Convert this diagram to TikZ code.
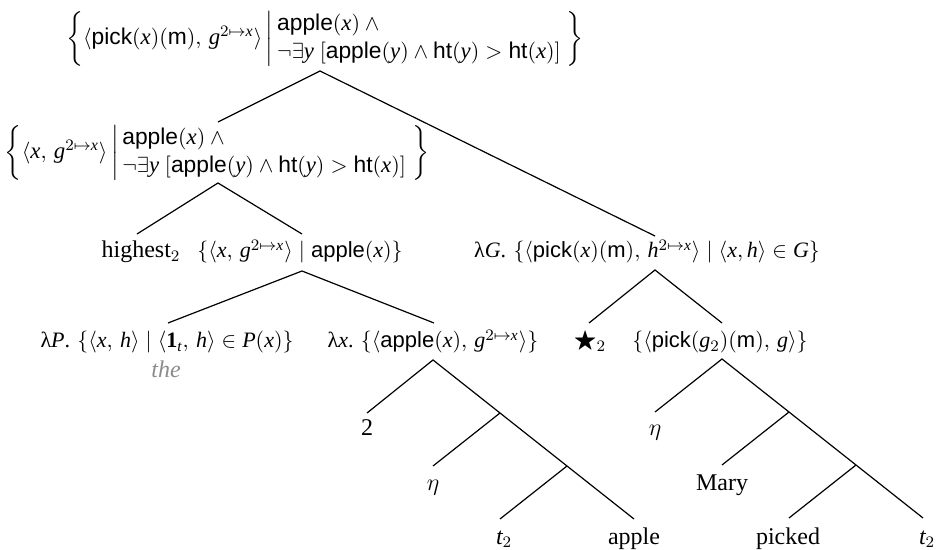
\documentclass[tikz,border=0pt]{standalone}
\usepackage{amsmath,amssymb}
\usepackage{fontspec}
\setmainfont{Liberation Serif}
\setsansfont{Liberation Sans}
\newcommand{\pr}[1]{\textsf{#1}}
\newcommand{\mi}[1]{\mathit{#1}}
\tikzset{
  lbl/.style={inner sep=0pt, outer sep=0pt, anchor=base, font=\fontsize{11}{13.5}\selectfont},
  word/.style={inner sep=0pt, outer sep=0pt, anchor=base, font=\fontsize{12}{14}\selectfont},
  big/.style={inner sep=0pt, outer sep=0pt, anchor=center, font=\fontsize{11.4}{14}\selectfont},
  br/.style={line width=0.6pt, black},
  note/.style={word, text=black!45}
}
\begin{document}
\begin{tikzpicture}[x=0.5pt, y=-0.5pt]
\useasboundingbox (0,0) rectangle (942,550);
% nodes
\node[big] (top) at (325,39) {$\bigg\{\langle \pr{pick}(\mi{x})(\pr{m}),\, \mi{g}^{2\mapsto \mi{x}}\rangle \,\bigg|\, \begin{array}{@{}l@{}}\pr{apple}(\mi{x})\wedge{}\\ \neg\exists \mi{y}\ [\pr{apple}(\mi{y})\wedge \pr{ht}(\mi{y}) > \pr{ht}(\mi{x})]\end{array}\;\bigg\}$};
\node[big] (sec) at (217,153) {$\bigg\{\langle \mi{x},\, \mi{g}^{2\mapsto \mi{x}}\rangle \,\bigg|\, \begin{array}{@{}l@{}}\pr{apple}(\mi{x})\wedge{}\\ \neg\exists \mi{y}\ [\pr{apple}(\mi{y})\wedge \pr{ht}(\mi{y}) > \pr{ht}(\mi{x})]\end{array}\;\bigg\}$};
\node[word] (hi) at (141,258) {highest$_2$};
\node[lbl] (set) at (300,258) {$\{\langle \mi{x},\, \mi{g}^{2\mapsto \mi{x}}\rangle \mid \pr{apple}(\mi{x})\}$};
\node[lbl] (lg) at (647,258) {λ$\mi{G}$. $\{\langle \pr{pick}(\mi{x})(\pr{m}),\, \mi{h}^{2\mapsto \mi{x}}\rangle \mid \langle \mi{x}, \mi{h}\rangle \in \mi{G}\}$};
\node[lbl] (lp) at (167,348) {λ$\mi{P}$. $\{\langle \mi{x},\, \mi{h}\rangle \mid \langle \mathbf{1}_{\mi{t}},\, \mi{h}\rangle \in \mi{P}(\mi{x})\}$};
\node[note] (the) at (166,378) {\textit{the}};
\node[lbl] (lx) at (433,348) {λ$\mi{x}$. $\{\langle \pr{apple}(\mi{x}),\, \mi{g}^{2\mapsto \mi{x}}\rangle\}$};
\node[word] (star) at (590,348) {$\bigstar_2$};
\node[lbl] (pk) at (720,348) {$\{\langle \pr{pick}(\mi{g}_2)(\pr{m}),\, \mi{g}\rangle\}$};
\node[word] (two) at (367,436) {2};
\node[word] (etaL) at (433,490) {$\eta$};
\node[word, anchor=base west] (tL) at (496,544) {$\mi{t}_2$};
\node[word] (apple) at (634,544) {apple};
\node[word] (etaR) at (655,436) {$\eta$};
\node[word] (mary) at (722,490) {Mary};
\node[word] (picked) at (788,544) {picked};
\node[word, anchor=base west] (tR) at (919,544) {$\mi{t}_2$};
% connector points
\coordinate (topB) at (320,71);
\coordinate (secT) at (218,122);
\coordinate (lgT) at (655,236);
\coordinate (secB) at (218,183);
\coordinate (hiT) at (137,234);
\coordinate (setT) at (302,234);
\coordinate (setB) at (302,271);
\coordinate (lpT) at (168,323);
\coordinate (lxT) at (434,323);
\coordinate (lgB) at (655,270);
\coordinate (starT) at (589,323);
\coordinate (pkT) at (722,323);
\coordinate (lxB) at (433,360);
\coordinate (twoT) at (367,413);
\coordinate (lj1) at (500,413);
\coordinate (etaLT) at (433,466);
\coordinate (lj2) at (567,466);
\coordinate (tLT) at (500,519);
\coordinate (appleT) at (634,519);
\coordinate (pkB) at (722,359);
\coordinate (etaRT) at (655,412);
\coordinate (rj1) at (789,412);
\coordinate (maryT) at (722,465);
\coordinate (rj2) at (856,465);
\coordinate (pickedT) at (789,518);
\coordinate (tRT) at (923,518);
% connectors
\draw[br] (secT) -- (topB) -- (lgT);
\draw[br] (hiT) -- (secB) -- (setT);
\draw[br] (lpT) -- (setB) -- (lxT);
\draw[br] (starT) -- (lgB) -- (pkT);
\draw[br] (twoT) -- (lxB) -- (lj1) -- (lj2) -- (appleT);
\draw[br] (lj1) -- (etaLT);
\draw[br] (lj2) -- (tLT);
\draw[br] (etaRT) -- (pkB) -- (rj1) -- (rj2) -- (tRT);
\draw[br] (rj1) -- (maryT);
\draw[br] (rj2) -- (pickedT);
\end{tikzpicture}
\end{document}
